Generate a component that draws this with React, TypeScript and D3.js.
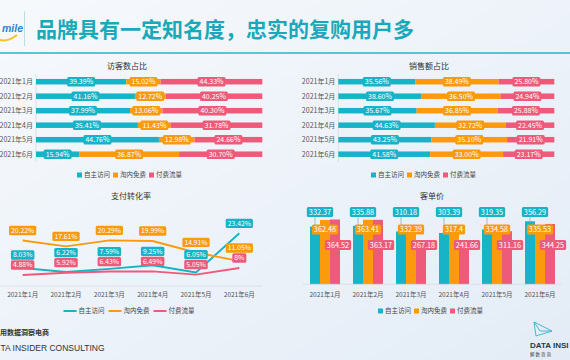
import { useEffect, useRef } from 'react';
import * as d3 from 'd3';

const months = ['2021年1月', '2021年2月', '2021年3月', '2021年4月', '2021年5月', '2021年6月'];
const seriesNames = ['自主访问', '淘内免费', '付费流量'];

// 访客数占比
const visitorOwn = [39.39, 41.16, 37.99, 35.41, 44.76, 15.94];
const visitorFree = [15.02, 12.72, 13.06, 11.43, 12.98, 36.87];
const visitorPaid = [44.33, 40.25, 40.3, 31.78, 24.66, 30.7];

// 销售额占比
const salesOwn = [35.56, 38.6, 35.67, 44.63, 43.25, 41.58];
const salesFree = [38.49, 36.5, 36.85, 32.72, 35.1, 33.0];
const salesPaid = [25.8, 24.94, 25.88, 22.45, 21.91, 23.17];

// 支付转化率
const convOwn = [8.03, 6.22, 7.59, 9.25, 6.05, 23.42];
const convFree = [20.22, 17.61, 20.29, 19.99, 14.91, 11.05];
const convPaid = [4.88, 5.92, 6.43, 6.49, 5.05, 8];

// 客单价
const priceOwn = [332.37, 335.88, 310.18, 303.39, 319.35, 356.29];
const priceFree = [362.48, 363.41, 332.39, 317.4, 334.58, 335.53];
const pricePaid = [364.52, 363.17, 267.18, 241.66, 311.16, 344.25];

const COLORS = ['#17b3c7', '#fb9a0c', '#ee5a79'];
const FONT = '"Noto Sans CJK SC", "Noto Sans", sans-serif';

type Sel = d3.Selection<any, unknown, null, undefined>;

function addLabel(g: Sel, cx: number, cy: number, text: string, color: string, size = 7) {
  const grp = g.append('g');
  const rect = grp.append('rect').attr('fill', color).attr('rx', 1.5);
  const t = grp.append('text')
    .attr('x', cx)
    .attr('y', cy)
    .attr('dy', '0.36em')
    .attr('text-anchor', 'middle')
    .attr('font-size', size)
    .attr('fill', '#fff')
    .attr('font-family', FONT)
    .text(text);
  const w = (t.node() as SVGTextElement).getComputedTextLength() + 4;
  const h = size + 2.5;
  rect.attr('x', cx - w / 2).attr('y', cy - h / 2).attr('width', w).attr('height', h);
}

function drawLegend(svg: Sel, cx: number, cy: number, kind: 'rect' | 'line') {
  const iconW = kind === 'rect' ? 5 : 13;
  const itemW = iconW + 2 + 26 + (kind === 'rect' ? 3 : 4);
  const start = cx - (itemW * 3) / 2;
  seriesNames.forEach((name, i) => {
    const x = start + i * itemW;
    if (kind === 'rect') {
      svg.append('rect').attr('x', x).attr('y', cy - 2.5).attr('width', 5).attr('height', 5).attr('fill', COLORS[i]);
    } else {
      svg.append('line').attr('x1', x).attr('x2', x + iconW).attr('y1', cy).attr('y2', cy)
        .attr('stroke', COLORS[i]).attr('stroke-width', 2);
    }
    svg.append('text')
      .attr('x', x + iconW + 2)
      .attr('y', cy)
      .attr('dy', '0.36em')
      .attr('font-size', 6.5)
      .attr('fill', '#444')
      .attr('font-family', FONT)
      .text(name);
  });
}

function drawShare(svg: Sel, series: number[][], x0: number, x1: number, title: string, titleX: number) {
  const y = d3.scaleBand().domain(months).range([74.45, 161.45]);
  const x = d3.scaleLinear().domain([0, 1]).range([x0, x1]);
  const barH = 5.5;

  svg.append('text')
    .attr('x', titleX).attr('y', 66).attr('dy', '0.36em')
    .attr('text-anchor', 'middle').attr('font-size', 8).attr('fill', '#333')
    .attr('font-family', FONT).text(title);

  svg.append('line').attr('x1', x0).attr('x2', x0).attr('y1', 74).attr('y2', 162)
    .attr('stroke', '#d3d9e0').attr('stroke-width', 0.8);

  const labelLayer: { cx: number; cy: number; text: string; color: string }[] = [];
  months.forEach((m, i) => {
    const vals = series.map(s => s[i]);
    const total = d3.sum(vals);
    let acc = 0;
    const cy = (y(m) || 0) + y.bandwidth() / 2;
    vals.forEach((v, j) => {
      const a = acc / total;
      const b = (acc + v) / total;
      acc += v;
      svg.append('rect')
        .attr('x', x(a)).attr('y', cy - barH / 2)
        .attr('width', x(b) - x(a)).attr('height', barH)
        .attr('fill', COLORS[j]);
      labelLayer.push({ cx: (x(a) + x(b)) / 2, cy, text: `${v.toFixed(2)}%`, color: COLORS[j] });
    });
    svg.append('text')
      .attr('x', x0 - 3).attr('y', cy).attr('dy', '0.36em')
      .attr('text-anchor', 'end').attr('font-size', 7).attr('fill', '#555')
      .attr('font-family', FONT).text(m);
  });
  labelLayer.forEach(l => addLabel(svg, l.cx, l.cy, l.text, l.color, 7));
}

export default function App() {
  const svgRef = useRef<SVGSVGElement>(null);

  useEffect(() => {
    if (!svgRef.current) return;
    d3.select(svgRef.current).selectAll('*').remove();
    const svg = d3.select(svgRef.current) as unknown as Sel;

    // background
    const defs = svg.append('defs');
    const bg = defs.append('linearGradient').attr('id', 'bg').attr('x1', 0).attr('y1', 0).attr('x2', 1).attr('y2', 1);
    bg.append('stop').attr('offset', '0%').attr('stop-color', '#f6f9fc');
    bg.append('stop').attr('offset', '55%').attr('stop-color', '#ecf2f9');
    bg.append('stop').attr('offset', '100%').attr('stop-color', '#e3ecf6');
    svg.append('rect').attr('width', 570).attr('height', 360).attr('fill', 'url(#bg)');

    // header (logo is cropped at the page edge in the source)
    svg.append('text')
      .attr('x', 2).attr('y', 32)
      .attr('font-size', 10.5).attr('font-weight', 700).attr('font-style', 'italic')
      .attr('fill', '#2a86d3').attr('font-family', 'Liberation Sans, Arial, sans-serif')
      .text('mile');
    svg.append('path').attr('d', 'M0,40 Q8,42 17,35').attr('fill', 'none')
      .attr('stroke', '#f5c518').attr('stroke-width', 2);
    svg.append('line').attr('x1', 24.5).attr('x2', 24.5).attr('y1', 11).attr('y2', 46)
      .attr('stroke', '#a9d5de').attr('stroke-width', 0.8);
    svg.append('text')
      .attr('x', 36).attr('y', 37)
      .attr('font-size', 21).attr('font-weight', 700).attr('fill', '#19a9b9')
      .attr('font-family', FONT)
      .text('品牌具有一定知名度，忠实的复购用户多');
    svg.append('line').attr('x1', 0).attr('x2', 570).attr('y1', 53).attr('y2', 53)
      .attr('stroke', '#20b6c7').attr('stroke-width', 1.5);

    // share charts
    drawShare(svg, [visitorOwn, visitorFree, visitorPaid], 36, 262.3, '访客数占比', 127);
    drawShare(svg, [salesOwn, salesFree, salesPaid], 338.3, 554.3, '销售额占比', 429);
    drawLegend(svg, 131, 175, 'rect');
    drawLegend(svg, 425, 175, 'rect');

    // conversion line chart
    const lx = d3.scaleBand().domain(months).range([1, 261]);
    const ly = d3.scaleLinear().domain([0, 30]).range([286, 218.5]);
    const cxOf = (m: string) => (lx(m) || 0) + lx.bandwidth() / 2;
    svg.append('text')
      .attr('x', 131).attr('y', 196).attr('dy', '0.36em').attr('text-anchor', 'middle')
      .attr('font-size', 8).attr('fill', '#333').attr('font-family', FONT).text('支付转化率');
    svg.append('line').attr('x1', 0).attr('x2', 262).attr('y1', 286).attr('y2', 286)
      .attr('stroke', '#d6dce3').attr('stroke-width', 0.8);
    const convSeries = [convOwn, convFree, convPaid];
    const line = d3.line<number>().x((_, i) => cxOf(months[i])).y(d => ly(d));
    convSeries.forEach((s, j) => {
      svg.append('path').attr('d', line(s) || '').attr('fill', 'none')
        .attr('stroke', COLORS[j]).attr('stroke-width', 1.9);
    });
    const fmtConv = (v: number) => (Number.isInteger(v) ? `${v}%` : `${v.toFixed(2)}%`);
    const labelPos: number[][] = convSeries.map(() => []);
    months.forEach((m, i) => {
      const items = convSeries.map((s, j) => ({ j, y: ly(s[i]) - 10 }));
      items.sort((a, b) => b.y - a.y);
      let prev: number | null = null;
      items.forEach(it => {
        if (prev !== null && it.y > prev - 10) it.y = prev - 10;
        prev = it.y;
        labelPos[it.j][i] = it.y;
      });
    });
    convSeries.forEach((s, j) => {
      s.forEach((v, i) => addLabel(svg, cxOf(months[i]), labelPos[j][i], fmtConv(v), COLORS[j], 6.8));
    });
    months.forEach(m => {
      svg.append('text').attr('x', cxOf(m)).attr('y', 294.5).attr('dy', '0.36em')
        .attr('text-anchor', 'middle').attr('font-size', 6.5).attr('fill', '#555')
        .attr('font-family', FONT).text(m);
    });
    drawLegend(svg, 131, 311, 'line');

    // price bar chart
    const bx = d3.scaleBand().domain(months).range([303.5, 561.5]);
    const inner = d3.scaleBand().domain(['0', '1', '2']).range([0, 30]);
    const by = d3.scaleLinear().domain([70, 385]).range([284.3, 215]);
    const priceSeries = [priceOwn, priceFree, pricePaid];
    const groupX = (m: string) => (bx(m) || 0) + (bx.bandwidth() - 30) / 2;
    svg.append('text')
      .attr('x', 432).attr('y', 196).attr('dy', '0.36em').attr('text-anchor', 'middle')
      .attr('font-size', 8).attr('fill', '#333').attr('font-family', FONT).text('客单价');
    priceSeries.forEach((s, j) => {
      s.forEach((v, i) => {
        svg.append('rect')
          .attr('x', groupX(months[i]) + (inner(String(j)) || 0))
          .attr('y', by(v))
          .attr('width', inner.bandwidth())
          .attr('height', by.range()[0] - by(v))
          .attr('fill', COLORS[j]);
      });
    });
    svg.append('line').attr('x1', 303).attr('x2', 562).attr('y1', 284.3).attr('y2', 284.3)
      .attr('stroke', '#d6dce3').attr('stroke-width', 0.8);
    const top = by.range()[1];
    const rowY = [top - 3, top + 14.5, top + 30];
    const shiftX = [5, 0, 3];
    priceSeries.forEach((s, j) => {
      s.forEach((v, i) => {
        const bcx = groupX(months[i]) + (inner(String(j)) || 0) + inner.bandwidth() / 2;
        const ly0 = rowY[j];
        if (by(v) > ly0 + 5) {
          svg.append('line').attr('x1', bcx).attr('x2', bcx).attr('y1', ly0 + 4).attr('y2', by(v))
            .attr('stroke', '#8a9097').attr('stroke-width', 0.6);
        }
      });
    });
    priceSeries.forEach((s, j) => {
      s.forEach((v, i) => {
        const bcx = groupX(months[i]) + (inner(String(j)) || 0) + inner.bandwidth() / 2;
        addLabel(svg, bcx + shiftX[j], rowY[j], String(v), COLORS[j], 7.3);
      });
    });
    months.forEach(m => {
      svg.append('text').attr('x', (bx(m) || 0) + bx.bandwidth() / 2).attr('y', 294.5).attr('dy', '0.36em')
        .attr('text-anchor', 'middle').attr('font-size', 6.5).attr('fill', '#555')
        .attr('font-family', FONT).text(m);
    });
    drawLegend(svg, 432, 311, 'rect');

    // footer (cropped at the page edges in the source)
    svg.append('text').attr('x', 0).attr('y', 335)
      .attr('font-size', 7).attr('font-weight', 700).attr('fill', '#333')
      .attr('font-family', FONT).text('用数据洞察电商');
    svg.append('text').attr('x', 0.5).attr('y', 351)
      .attr('font-size', 8.5).attr('fill', '#333')
      .attr('font-family', 'Liberation Sans, Arial, sans-serif').text('TA INSIDER CONSULTING');
    svg.append('path').attr('d', 'M534,322 L552,331 L536,336 Z M534,322 L540,331 L552,331')
      .attr('fill', 'none').attr('stroke', '#3ab0c8').attr('stroke-width', 0.9);
    svg.append('text').attr('x', 530).attr('y', 348)
      .attr('font-size', 8).attr('font-weight', 700).attr('fill', '#2a3a4a')
      .attr('font-family', 'Liberation Sans, Arial, sans-serif').text('DATA INSI');
    svg.append('text').attr('x', 530).attr('y', 356)
      .attr('font-size', 4.5).attr('fill', '#444')
      .attr('font-family', FONT).text('解 数 咨 询');
  }, []);

  return (
    <svg
      ref={svgRef}
      width={570}
      height={360}
      style={{ position: 'fixed', left: 0, top: 0, display: 'block' }}
    />
  );
}
